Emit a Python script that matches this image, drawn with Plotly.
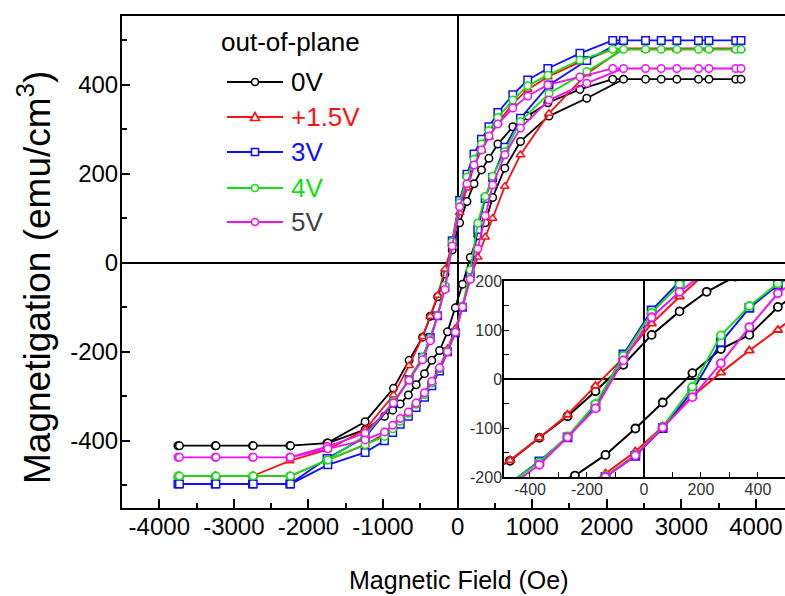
import plotly.graph_objects as go

# Field values (Oe) of the descending branch (+H -> -H) and of the ascending branch (-H -> +H)
H_desc = [3730, 3370, 2940, 2520, 2080, 1640, 1210, 940, 740, 540, 420, 320, 220, 125, 27,
          -72, -170, -268, -367, -470, -650, -860, -1240, -1750, -2250, -2750, -3250, -3750]
H_asc = [-3730, -3240, -2740, -2240, -1740, -1240, -980, -870, -770, -660, -556, -444, -346,
         -242, -135, -30, 66, 170, 270, 370, 470, 633, 843, 1225, 1732, 2225, 2730, 3230, 3800]

# Magnetization (emu/cm^3) for each gate voltage
M_0V_desc = [413, 413, 413, 413, 413, 390, 360, 330, 306, 267, 235, 209, 178, 138, 90,
             29, -25, -76, -120, -167, -219, -282, -357, -405, -411, -411, -411, -411]
M_0V_asc = [-411, -411, -411, -411, -405, -375, -345, -331, -317, -297, -274, -249, -219,
            -197, -155, -101, -48, 12, 61, 90, 147, 213, 273, 330, 370, 413, 413, 413, 413]

M_15V_desc = [480, 480, 480, 480, 480, 452, 418, 390, 358, 315, 283, 253, 218, 168, 113,
              43, -14, -73, -120, -166, -231, -297, -375, -420, -445, -479, -479, -479]
M_15V_asc = [-479, -479, -479, -479, -443, -409, -385, -370, -355, -338, -318, -295, -268,
             -235, -193, -148, -97, -35, 13, 58, 100, 172, 243, 336, 425, 482, 482, 482, 482]

M_3V_desc = [500, 500, 500, 500, 500, 471, 437, 411, 378, 338, 306, 278, 245, 199, 140,
             50, -56, -119, -168, -212, -262, -315, -392, -440, -497, -497, -497, -497]
M_3V_asc = [-497, -497, -497, -497, -454, -426, -400, -381, -363, -345, -325, -302, -276,
            -243, -200, -157, -100, -25, 75, 145, 192, 260, 325, 400, 455, 500, 500, 500, 500]

M_4V_desc = [480, 480, 480, 480, 480, 456, 422, 398, 366, 327, 297, 267, 233, 193, 135,
             47, -51, -117, -170, -212, -262, -312, -388, -443, -479, -479, -479, -479]
M_4V_asc = [-479, -479, -479, -479, -443, -409, -390, -373, -356, -338, -318, -296, -270,
            -238, -198, -155, -97, -16, 89, 149, 195, 250, 318, 381, 430, 480, 480, 480, 480]

M_5V_desc = [437, 437, 437, 437, 437, 418, 400, 375, 348, 312, 285, 254, 220, 178, 126,
             38, -60, -119, -175, -218, -264, -315, -383, -413, -437, -437, -437, -437]
M_5V_asc = [-437, -437, -437, -437, -418, -398, -380, -365, -350, -335, -315, -292, -266,
            -236, -200, -156, -99, -37, 32, 106, 175, 243, 303, 366, 404, 437, 437, 437, 437]

labels = ["0V", "+1.5V", "3V", "4V", "5V"]
line_colors = ["#000000", "#ff1010", "#1010ff", "#10e010", "#f010f0"]
label_colors = ["#000000", "#ff1010", "#1010ff", "#10e010", "#404040"]
symbols = ["circle", "triangle-up", "square", "circle", "circle"]
desc_values = [M_0V_desc, M_15V_desc, M_3V_desc, M_4V_desc, M_5V_desc]
asc_values = [M_0V_asc, M_15V_asc, M_3V_asc, M_4V_asc, M_5V_asc]

# Tick positions and their printed labels (plain hyphen as minus sign)
x_ticks = [-4000, -3000, -2000, -1000, 0, 1000, 2000, 3000, 4000]
x_ticklabels = ["-4000", "-3000", "-2000", "-1000", "0", "1000", "2000", "3000", "4000"]
y_ticks = [-400, -200, 0, 200, 400]
y_ticklabels = ["-400", "-200", "0", "200", "400"]
inset_x_ticks = [-400, -200, 0, 200, 400]
inset_x_ticklabels = ["-400", "-200", "0", "200", "400"]
inset_y_ticks = [-200, -100, 0, 100, 200]
inset_y_ticklabels = ["-200", "-100", "0", "100", "200"]

FONT = "Liberation Sans, Arial, sans-serif"

W, HGT = 785, 596
L, R, T, B = 122, 785, 16, 508


def px(x):
    return (x - L) / (R - L)


def py(y):
    return (B - y) / (B - T)


fig = go.Figure()

for lab, col, sym, md, ma in zip(labels, line_colors, symbols, desc_values, asc_values):
    fig.add_trace(go.Scatter(
        x=H_desc + H_asc, y=md + ma, mode="lines+markers", name=lab, showlegend=False,
        line=dict(color=col, width=1.8),
        marker=dict(symbol=sym, size=7.5, color="white", line=dict(color=col, width=1.5)),
        xaxis="x", yaxis="y"))
for lab, col, sym, md, ma in zip(labels, line_colors, symbols, desc_values, asc_values):
    fig.add_trace(go.Scatter(
        x=H_desc + H_asc, y=md + ma, mode="lines+markers", name=lab, showlegend=False,
        line=dict(color=col, width=2),
        marker=dict(symbol=sym, size=8, color="white", line=dict(color=col, width=1.8)),
        xaxis="x2", yaxis="y2"))

# Hand-drawn legend: long line segment with the marker in its middle
shapes = []
annotations = []
annotations.append(dict(text="out-of-plane", x=px(219), y=py(42), xref="paper", yref="paper",
                        xanchor="left", yanchor="middle", showarrow=False,
                        font=dict(family=FONT, size=26, color="black")))
leg_y = [82, 117, 152, 188, 222]
for lab, lcol, tcol, sym, yy in zip(labels, line_colors, label_colors, symbols, leg_y):
    shapes.append(dict(type="line", xref="paper", yref="paper", x0=px(227), x1=px(283),
                       y0=py(yy), y1=py(yy), line=dict(color=lcol, width=2)))
    r = 3.5
    cx = 255
    if sym == "circle":
        shapes.append(dict(type="circle", xref="paper", yref="paper",
                           x0=px(cx - r), x1=px(cx + r), y0=py(yy + r), y1=py(yy - r),
                           fillcolor="white", line=dict(color=lcol, width=1.6)))
    elif sym == "square":
        shapes.append(dict(type="rect", xref="paper", yref="paper",
                           x0=px(cx - r), x1=px(cx + r), y0=py(yy + r), y1=py(yy - r),
                           fillcolor="white", line=dict(color=lcol, width=1.6)))
    else:
        path = "M {:.5f},{:.5f} L {:.5f},{:.5f} L {:.5f},{:.5f} Z".format(
            px(cx), py(yy - 4.5), px(cx - 4.5), py(yy + 3.5), px(cx + 4.5), py(yy + 3.5))
        shapes.append(dict(type="path", xref="paper", yref="paper", path=path,
                           fillcolor="white", line=dict(color=lcol, width=1.6)))
    annotations.append(dict(text=lab, x=px(289), y=py(yy), xref="paper", yref="paper",
                            xanchor="left", yanchor="middle", showarrow=False,
                            font=dict(family=FONT, size=26, color=tcol)))

# Axis titles
annotations.append(dict(text="Magnetic Field (Oe)", x=px(459), y=py(580), xref="paper", yref="paper",
                        xanchor="center", yanchor="middle", showarrow=False,
                        font=dict(family=FONT, size=25, color="black")))
annotations.append(dict(text="Magnetigation (emu/cm<sup>3</sup>)", x=px(34), y=py(278),
                        xref="paper", yref="paper", textangle=-90,
                        xanchor="center", yanchor="middle", showarrow=False,
                        font=dict(family=FONT, size=37, color="black")))

axis_common = dict(showgrid=False, showline=True, linecolor="black", ticks="inside",
                   tickcolor="black", zeroline=True, zerolinecolor="black", tickangle=0,
                   tickmode="array")

fig.update_layout(
    width=W, height=HGT,
    margin=dict(l=L, r=W - R, t=T, b=HGT - B, autoexpand=False),
    paper_bgcolor="white", plot_bgcolor="white",
    showlegend=False,
    font=dict(family=FONT, color="black"),
    xaxis=dict(axis_common, range=[-4500, 4390], domain=[0, 1], anchor="y",
               linewidth=2, mirror=True, zerolinewidth=2,
               tickvals=x_ticks, ticktext=x_ticklabels, ticklen=9, tickwidth=1.5,
               minor=dict(ticks="inside", dtick=500, ticklen=5, tickwidth=1.5, tickcolor="black"),
               tickfont=dict(family=FONT, size=24, color="black"), ticklabelstandoff=-4),
    yaxis=dict(axis_common, range=[-551, 555], domain=[0, 1], anchor="x",
               linewidth=2, mirror=False, zerolinewidth=2,
               tickvals=y_ticks, ticktext=y_ticklabels, ticklen=8, tickwidth=1.5,
               minor=dict(ticks="inside", dtick=100, ticklen=5, tickwidth=1.5, tickcolor="black"),
               tickfont=dict(family=FONT, size=24, color="black"), ticklabelstandoff=-3),
    xaxis2=dict(axis_common, range=[-491, 495], domain=[px(504), 1], anchor="y2",
                linewidth=1.5, mirror=True, zerolinewidth=2,
                tickvals=inset_x_ticks, ticktext=inset_x_ticklabels, ticklen=5, tickwidth=1.2,
                minor=dict(ticks="inside", dtick=100, ticklen=5, tickwidth=1.2, tickcolor="black"),
                tickfont=dict(family=FONT, size=16, color="#333333"), ticklabelstandoff=-3),
    yaxis2=dict(axis_common, range=[-200, 200], domain=[py(477), py(281)], anchor="x2",
                linewidth=1.5, mirror=False, zerolinewidth=2,
                tickvals=inset_y_ticks, ticktext=inset_y_ticklabels, ticklen=5, tickwidth=1.2,
                minor=dict(ticks="inside", dtick=50, ticklen=5, tickwidth=1.2, tickcolor="black"),
                tickfont=dict(family=FONT, size=16, color="#333333"), ticklabelstandoff=-3),
    shapes=shapes,
    annotations=annotations,
)

fig.write_html("out.html")
